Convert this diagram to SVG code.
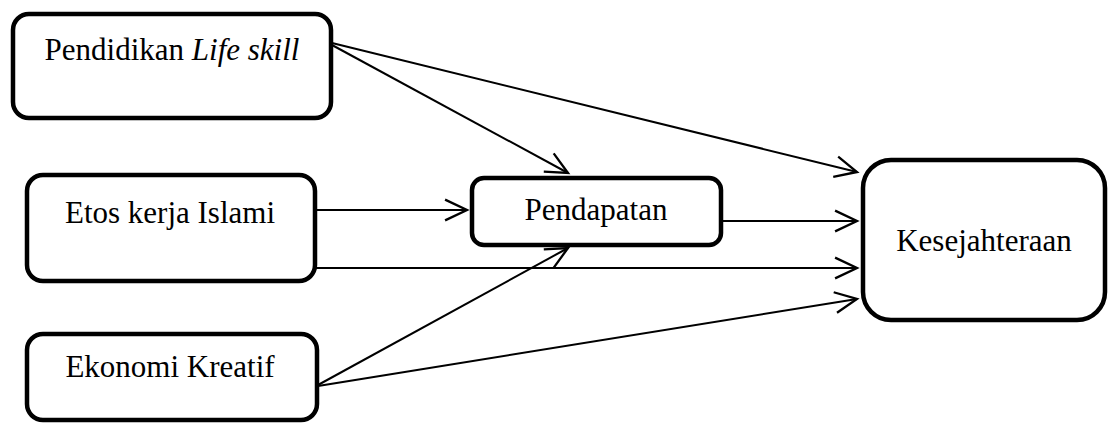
<svg xmlns="http://www.w3.org/2000/svg" width="1109" height="423" viewBox="0 0 1109 423">
  <style>
    .box { fill: #ffffff; stroke: #000000; stroke-width: 4.5; }
    .lbl { font-family: "Liberation Serif", "Times New Roman", serif; font-size: 31px; fill: #000000; text-anchor: middle; }
    .edge { stroke: #000000; stroke-width: 2; fill: none; marker-end: url(#arrow); }
  </style>
  <defs>
    <marker id="arrow" markerUnits="userSpaceOnUse" markerWidth="30" markerHeight="30" refX="0" refY="0" viewBox="-22 -12 26 24" orient="auto" overflow="visible">
      <path d="M-19,-9 L0,0 L-19,9" fill="none" stroke="#000000" stroke-width="2" stroke-linejoin="miter"/>
    </marker>
  </defs>
  <rect width="1109" height="423" fill="#ffffff"/>

  <g id="connectors">
    <line class="edge" x1="332" y1="43" x2="857" y2="172"/>
    <line class="edge" x1="332" y1="45" x2="568" y2="173"/>
    <line class="edge" x1="316" y1="210" x2="467" y2="210"/>
    <line class="edge" x1="723" y1="221" x2="857" y2="221"/>
    <line class="edge" x1="316" y1="268" x2="857" y2="268"/>
    <line class="edge" x1="318" y1="385" x2="568" y2="248"/>
    <line class="edge" x1="318" y1="386" x2="857" y2="299"/>
  </g>

  <g id="node-pendidikan">
    <rect class="box" x="13" y="14" width="318" height="104" rx="16" ry="16"/>
    <text class="lbl" x="172" y="60">Pendidikan <tspan font-style="italic">Life skill</tspan></text>
  </g>
  <g id="node-etos">
    <rect class="box" x="27" y="175" width="288" height="106" rx="16" ry="16"/>
    <text class="lbl" x="170" y="223">Etos kerja Islami</text>
  </g>
  <g id="node-ekonomi">
    <rect class="box" x="27" y="334" width="290" height="86" rx="16" ry="16"/>
    <text class="lbl" x="170" y="377">Ekonomi Kreatif</text>
  </g>
  <g id="node-pendapatan">
    <rect class="box" x="472" y="178" width="249" height="67" rx="12" ry="12"/>
    <text class="lbl" x="596" y="220">Pendapatan</text>
  </g>
  <g id="node-kesejahteraan">
    <rect class="box" x="863" y="160" width="242" height="160" rx="28" ry="28"/>
    <text class="lbl" x="984" y="251">Kesejahteraan</text>
  </g>
</svg>
